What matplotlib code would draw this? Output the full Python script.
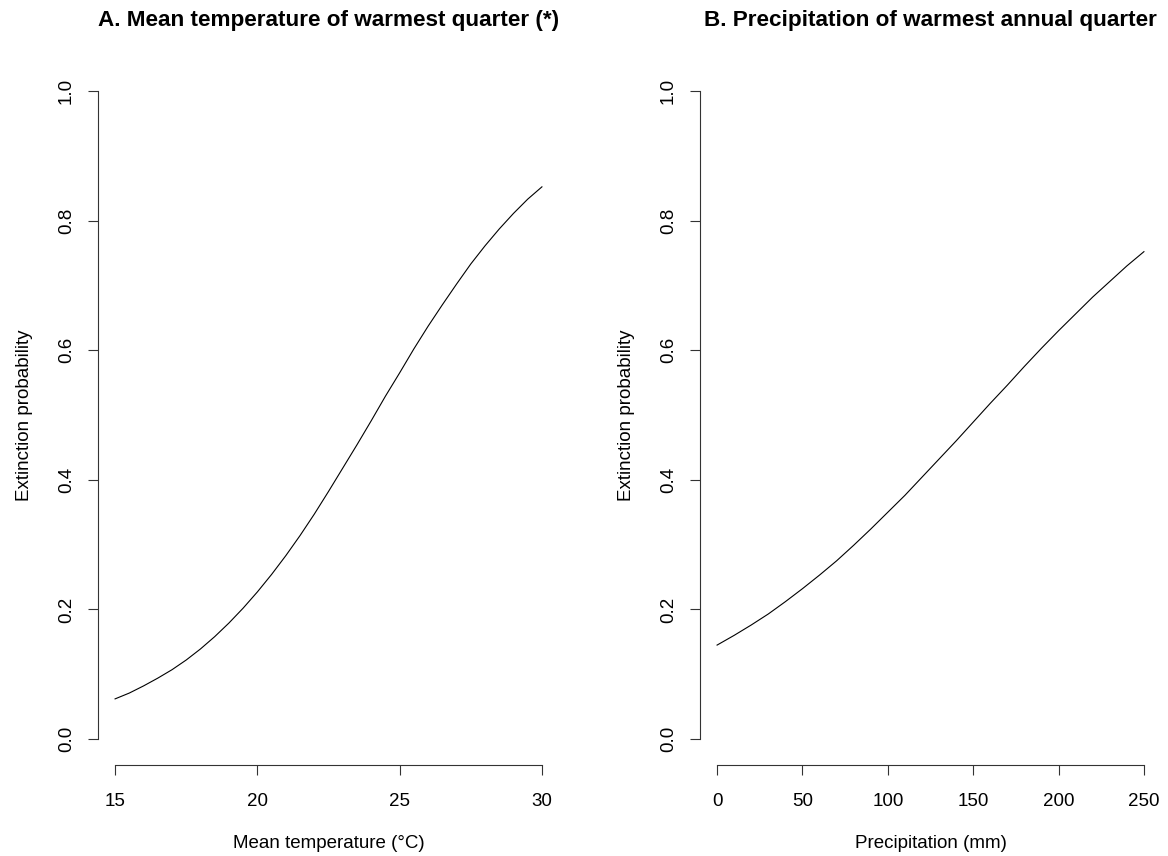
import matplotlib
matplotlib.use("Agg")
import matplotlib.pyplot as plt

plt.rcParams['font.family'] = ['Liberation Sans', 'DejaVu Sans']

# fitted extinction probability, panel A (temperature)
temp = [15, 15.5, 16, 16.5, 17, 17.5, 18, 18.5, 19, 19.5, 20, 20.5, 21, 21.5,
        22, 22.5, 23, 23.5, 24, 24.5, 25, 25.5, 26, 26.5, 27, 27.5, 28, 28.5,
        29, 29.5, 30]
p_temp = [0.062, 0.071, 0.082, 0.094, 0.107, 0.122, 0.139, 0.158, 0.179, 0.202,
          0.227, 0.254, 0.283, 0.314, 0.347, 0.382, 0.418, 0.454, 0.491, 0.529,
          0.565, 0.602, 0.637, 0.670, 0.702, 0.733, 0.761, 0.787, 0.811, 0.833,
          0.852]

# panel B (precipitation)
precip = [0, 10, 20, 30, 40, 50, 60, 70, 80, 90, 100, 110, 120, 130, 140, 150,
          160, 170, 180, 190, 200, 210, 220, 230, 240, 250]
p_precip = [0.145, 0.160, 0.176, 0.193, 0.212, 0.232, 0.253, 0.275, 0.299, 0.324,
            0.350, 0.376, 0.404, 0.432, 0.460, 0.489, 0.518, 0.546, 0.575, 0.603,
            0.630, 0.656, 0.682, 0.706, 0.730, 0.752]

temp_ticks = [15, 20, 25, 30]
precip_ticks = [0, 50, 100, 150, 200, 250]
prob_ticks = [0.0, 0.2, 0.4, 0.6, 0.8, 1.0]

W, H = 1168, 856
fig = plt.figure(figsize=(W / 100, H / 100), dpi=100)


def panel(left, right, x, y, xticks, title, xlabel):
    ax = fig.add_axes([left / W, 1 - 765 / H, (right - left) / W, 700 / H])
    ax.plot(x, y, color='black', linewidth=0.8)
    span = xticks[-1] - xticks[0]
    ax.set_xlim(xticks[0] - 0.04 * span, xticks[-1] + 0.04 * span)
    ax.set_ylim(-0.04, 1.04)
    for s in ['top', 'right']:
        ax.spines[s].set_visible(False)
    ax.spines['left'].set_bounds(0, 1)
    ax.spines['bottom'].set_bounds(xticks[0], xticks[-1])
    for s in ['left', 'bottom']:
        ax.spines[s].set_linewidth(0.8)
        ax.spines[s].set_color('#333333')
    ax.set_xticks(xticks)
    ax.set_xticklabels([str(t) for t in xticks])
    ax.set_yticks(prob_ticks)
    ax.set_yticklabels(['%.1f' % t for t in prob_ticks], rotation=90, va='center')
    ax.tick_params(axis='both', length=7.5, width=0.8, color='#333333',
                   labelsize=13.5)
    ax.tick_params(axis='x', pad=12.5)
    ax.tick_params(axis='y', pad=9)
    ax.set_xlabel(xlabel, fontsize=13.5, labelpad=18)
    ax.set_ylabel('Extinction probability', fontsize=13.5, labelpad=18)
    ax.set_title(title, fontsize=16.2, fontweight='bold', pad=28)
    return ax


panel(98, 559, temp, p_temp, temp_ticks,
      'A. Mean temperature of warmest quarter (*)', 'Mean temperature (°C)')
panel(700, 1161, precip, p_precip, precip_ticks,
      'B. Precipitation of warmest annual quarter', 'Precipitation (mm)')

fig.savefig('out.png', dpi=100)
